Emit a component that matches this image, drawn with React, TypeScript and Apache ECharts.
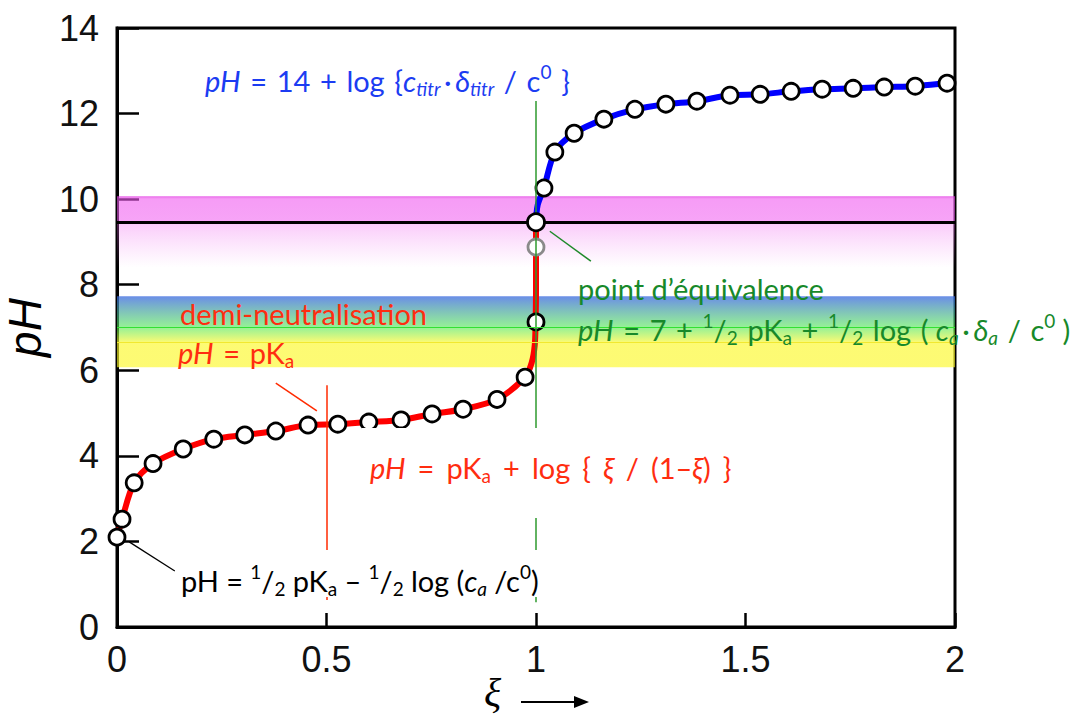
import React, { useEffect, useRef } from 'react';
import * as echarts from 'echarts';

// ---------- data ----------
const xiMin = 0;
const xiMax = 2;
const xiStep = 0.5;
const pHMin = 0;
const pHMax = 14;
const pHStep = 2;

// acid side (red) curve
const acidCurveXi = [0, 0.012, 0.041, 0.086, 0.158, 0.231, 0.305, 0.379, 0.456, 0.527, 0.601, 0.678, 0.752, 0.826, 0.907, 0.974, 0.99, 0.997, 0.999, 1.0, 1.0, 1.0];
const acidCurvePH = [2.1, 2.52, 3.37, 3.82, 4.16, 4.39, 4.49, 4.58, 4.72, 4.74, 4.79, 4.84, 4.98, 5.09, 5.32, 5.84, 6.19, 6.59, 7.13, 7.87, 8.88, 9.46];
// base side (blue) curve
const baseCurveXi = [1.0, 1.004, 1.019, 1.045, 1.091, 1.162, 1.236, 1.31, 1.384, 1.463, 1.535, 1.609, 1.683, 1.757, 1.831, 1.905, 1.981, 2.0];
const baseCurvePH = [9.46, 9.86, 10.26, 11.1, 11.54, 11.87, 12.1, 12.22, 12.29, 12.43, 12.45, 12.52, 12.57, 12.59, 12.62, 12.64, 12.71, 12.73];

// circle markers
const markerXi = [0, 0.012, 0.041, 0.086, 0.158, 0.231, 0.305, 0.379, 0.456, 0.527, 0.601, 0.678, 0.752, 0.826, 0.907, 0.974,
  1.019, 1.045, 1.091, 1.162, 1.236, 1.31, 1.384, 1.463, 1.535, 1.609, 1.683, 1.757, 1.831, 1.905, 1.981];
const markerPH = [2.1, 2.52, 3.37, 3.82, 4.16, 4.39, 4.49, 4.58, 4.72, 4.74, 4.79, 4.84, 4.98, 5.09, 5.32, 5.84,
  10.26, 11.1, 11.54, 11.87, 12.1, 12.22, 12.29, 12.43, 12.45, 12.52, 12.57, 12.59, 12.62, 12.64, 12.71];
const halfEqXi = 1.0;
const halfEqPH = 7.13; // green circle
const theoEqXi = 1.0;
const theoEqPH = 8.88; // grey circle
const equivXi = 1.0;
const equivPH = 9.46; // black line + circle

// indicator bands
const phenolBand = [8.4, 10.07];
const bbtBand = [6.07, 7.73];
const bbtGreenPH = 7.0;
const bbtYellowPH = 6.65;

// guide lines
const halfXi = 0.5;
const halfLine = [5.65, 0.63];
const eqLine = [12.4, 0.58];
const redPointer = [[0.379, 5.7], [0.477, 5.05]];
const greenPointer = [[1.033, 9.25], [1.131, 8.55]];
const blackPointer = [[0.029, 1.99], [0.138, 1.31]];

// ---------- styles ----------
const SANS = 'Lato, "Open Sans", "DejaVu Sans", sans-serif';
const FS = 29;
const SUB = 19;
const TICKFONT = '"Liberation Sans", Arial, sans-serif';

function richSet(color: string) {
  return {
    i: { fontSize: FS, fontStyle: 'italic', fontFamily: SANS, fill: color, lineHeight: 36 },
    si: { fontSize: SUB, fontStyle: 'italic', fontFamily: SANS, fill: color, lineHeight: 20, verticalAlign: 'bottom' },
    s: { fontSize: SUB, fontFamily: SANS, fill: color, lineHeight: 20, verticalAlign: 'bottom' },
    sp: { fontSize: SUB, fontFamily: SANS, fill: color, lineHeight: 22, verticalAlign: 'top' },
  };
}

function label(text: string, x: number, y: number, color: string, space?: string) {
  const t = space ? text.replace(/ /g, space) : text;
  return {
    type: 'text',
    x,
    y,
    z: 11,
    silent: true,
    style: {
      text: t,
      fill: color,
      fontSize: FS,
      fontFamily: SANS,
      lineHeight: 36,
      align: 'left',
      verticalAlign: 'middle',
      rich: richSet(color),
    },
  };
}

const BLUE = '#1c3cf2';
const RED = '#ff2d10';
const GREEN = '#17892a';
const WIDE = '\u2004';
const MID = '\u2005';
const WIDER = '\u2005\u2006';

export default function App() {
  const ref = useRef<HTMLDivElement>(null);
  useEffect(() => {
    document.body.style.margin = '0';
    const chart = echarts.init(ref.current!, null, { renderer: 'svg' });

    const seg = (a: number[], b: number[], color: string, width: number) => [
      { coord: a, lineStyle: { color, width, type: 'solid' } },
      { coord: b },
    ];

    const option: any = {
      animation: false,
      backgroundColor: '#ffffff',
      grid: {
        left: 117,
        right: 124,
        top: 28,
        bottom: 90,
        containLabel: false,
        outerBoundsMode: 'none',
        show: true,
        borderColor: '#000',
        borderWidth: 3,
        backgroundColor: 'transparent',
      },
      xAxis: {
        type: 'value',
        min: xiMin,
        max: xiMax,
        interval: xiStep,
        axisLine: { lineStyle: { color: '#000', width: 3 } },
        axisTick: { inside: true, length: 14, lineStyle: { color: '#000', width: 2.5 } },
        axisLabel: { fontSize: 36, color: '#111', fontFamily: TICKFONT, margin: 14 },
        splitLine: { show: false },
      },
      yAxis: {
        type: 'value',
        min: pHMin,
        max: pHMax,
        interval: pHStep,
        name: 'pH',
        nameLocation: 'middle',
        nameRotate: 90,
        nameGap: 64,
        nameTextStyle: { fontSize: 46, fontStyle: 'italic', color: '#000', fontFamily: TICKFONT },
        axisLine: { lineStyle: { color: '#000', width: 3 } },
        axisTick: { inside: true, length: 22, lineStyle: { color: '#000', width: 2.5 } },
        axisLabel: { fontSize: 36, color: '#111', fontFamily: TICKFONT, margin: 18 },
        splitLine: { show: false },
      },
      series: [
        {
          type: 'line',
          z: 2,
          smooth: 0.3,
          symbol: 'none',
          silent: true,
          lineStyle: { color: '#ff0000', width: 6 },
          data: acidCurveXi.map((x, i) => [x, acidCurvePH[i]]),
        },
        {
          type: 'line',
          z: 2,
          smooth: 0.3,
          symbol: 'none',
          silent: true,
          lineStyle: { color: '#0000ff', width: 6 },
          data: baseCurveXi.map((x, i) => [x, baseCurvePH[i]]),
        },
        {
          type: 'scatter',
          z: 3,
          symbol: 'circle',
          symbolSize: 16,
          silent: true,
          itemStyle: { color: '#fff', borderColor: '#000', borderWidth: 2.8, opacity: 1 },
          data: markerXi.map((x, i) => [x, markerPH[i]]),
        },
        {
          type: 'scatter',
          z: 3,
          symbol: 'circle',
          symbolSize: 16,
          silent: true,
          itemStyle: { color: '#fff', borderColor: '#000', borderWidth: 2.8, opacity: 1 },
          data: [[halfEqXi, halfEqPH]],
        },
        {
          type: 'scatter',
          z: 3,
          symbol: 'circle',
          symbolSize: 16,
          silent: true,
          itemStyle: { color: '#fff', borderColor: '#8a8a8a', borderWidth: 2.8, opacity: 1 },
          data: [[theoEqXi, theoEqPH]],
        },
        // green guide line (under label boxes)
        {
          type: 'line',
          z: 4,
          data: [],
          silent: true,
          markLine: {
            silent: true,
            symbol: ['none', 'none'],
            label: { show: false },
            data: [
              seg([equivXi, eqLine[0]], [equivXi, eqLine[1]], '#2e9a2e', 1.5),
              seg(greenPointer[0], greenPointer[1], '#1f8a2a', 1.5),
            ],
          },
        },
        // indicator bands
        {
          type: 'line',
          z: 5,
          data: [],
          silent: true,
          markArea: {
            silent: true,
            data: [
              [
                {
                  yAxis: phenolBand[1],
                  itemStyle: {
                    color: new echarts.graphic.LinearGradient(0, 0, 0, 1, [
                      { offset: 0, color: 'rgba(225,50,225,0.75)' },
                      { offset: 0.04, color: 'rgba(240,90,240,0.6)' },
                      { offset: 0.36, color: 'rgba(240,90,240,0.55)' },
                      { offset: 0.4, color: 'rgba(240,100,240,0.32)' },
                      { offset: 1, color: 'rgba(240,120,240,0)' },
                    ]),
                  },
                },
                { yAxis: phenolBand[0] },
              ],
              [
                {
                  yAxis: bbtBand[1],
                  itemStyle: {
                    color: new echarts.graphic.LinearGradient(0, 0, 0, 1, [
                      { offset: 0, color: 'rgba(56,103,224,0.75)' },
                      { offset: 0.44, color: 'rgba(80,232,80,0.6)' },
                      { offset: 0.65, color: 'rgba(252,248,40,0.65)' },
                      { offset: 1, color: 'rgba(252,248,40,0.65)' },
                    ]),
                  },
                },
                { yAxis: bbtBand[0] },
              ],
            ],
          },
          markLine: {
            silent: true,
            symbol: ['none', 'none'],
            label: { show: false },
            data: [
              { yAxis: bbtGreenPH, lineStyle: { color: '#33e033', width: 1.2, type: 'solid' } },
              { yAxis: bbtYellowPH, lineStyle: { color: '#f2e830', width: 1, type: 'solid' } },
            ],
          },
        },
        // overlay lines
        {
          type: 'line',
          z: 12,
          data: [],
          silent: true,
          markLine: {
            silent: true,
            symbol: ['none', 'none'],
            label: { show: false },
            data: [
              { yAxis: equivPH, lineStyle: { color: '#000', width: 3, type: 'solid' } },
              seg([halfXi, halfLine[0]], [halfXi, halfLine[1]], '#ff2a00', 1.5),
              seg(redPointer[0], redPointer[1], '#ff2a00', 1.5),
              seg(blackPointer[0], blackPointer[1], '#000', 1.3),
            ],
          },
        },
        {
          type: 'scatter',
          z: 13,
          symbol: 'circle',
          symbolSize: 17,
          silent: true,
          itemStyle: { color: '#fff', borderColor: '#000', borderWidth: 2.8, opacity: 1 },
          data: [[equivXi, equivPH]],
        },
      ],
      graphic: [
        // white boxes behind formulas
        { type: 'rect', z: 10, silent: true, shape: { x: 196, y: 48, width: 392, height: 53 }, style: { fill: '#fff' } },
        { type: 'rect', z: 10, silent: true, shape: { x: 362, y: 428, width: 380, height: 90 }, style: { fill: '#fff' } },
        { type: 'rect', z: 10, silent: true, shape: { x: 176, y: 550, width: 386, height: 47 }, style: { fill: '#fff' } },
        label('{i|pH} = 14 + log {{i|c}{si|titr}\u2009·\u2009{i|δ}{si|titr} / c{sp|0} }', 205, 80, BLUE, WIDE),
        label('point d\u2019équivalence', 578, 288, GREEN),
        label('{i|pH} = 7 + {sp|1}/{s|2} pK{s|a} + {sp|1}/{s|2} log (\u2005{i|c}{si|a}\u2009·\u2009{i|δ}{si|a} / c{sp|0}\u2005)', 578, 329, GREEN, WIDE),
        label('demi-neutralisation', 180, 313, RED),
        label('{i|pH} = pK{s|a}', 178, 352, RED, WIDE),
        label('{i|pH} = pK{s|a} + log { {i|ξ} / (1–{i|ξ}) }', 370, 467, RED, WIDER),
        label('pH = {sp|1}/{s|2} pK{s|a} – {sp|1}/{s|2} log ({i|c}{si|a} /c{sp|0})', 181, 580, '#000', MID),
        // x axis name: xi with arrow
        {
          type: 'text',
          x: 484,
          y: 692,
          z: 11,
          silent: true,
          style: {
            text: 'ξ',
            fill: '#000',
            fontSize: 40,
            fontStyle: 'italic',
            fontFamily: '"Liberation Serif", "DejaVu Serif", serif',
            align: 'left',
            verticalAlign: 'middle',
          },
        },
        { type: 'line', z: 11, silent: true, shape: { x1: 521, y1: 702, x2: 580, y2: 702 }, style: { stroke: '#000', lineWidth: 2 } },
        { type: 'polygon', z: 11, silent: true, shape: { points: [[574, 696], [589, 702], [574, 708]] }, style: { fill: '#000' } },
      ],
    };

    chart.setOption(option);
    return () => chart.dispose();
  }, []);
  return <div ref={ref} style={{ width: 1079, height: 717 }} />;
}
